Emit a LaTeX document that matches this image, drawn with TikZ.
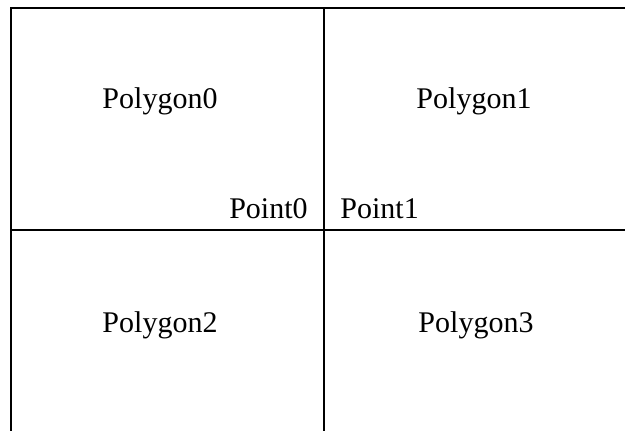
\documentclass[tikz,border=0pt]{standalone}
\usepackage{fontspec}
\setmainfont{Liberation Serif}
\usetikzlibrary{positioning}
\tikzset{
  edge/.style={line width=1pt, line cap=rect},
  label/.style={inner sep=0pt, font=\fontsize{15}{18}\selectfont},
}

\begin{document}
\begin{tikzpicture}[x=0.5pt, y=-0.5pt]
  \useasboundingbox (0,0) rectangle (625,430);
  % outline of the split
  \draw[edge] (11,430) -- (11,8) -- (625,8);
  \draw[edge] (324,8) -- (324,430);
  \draw[edge] (11,230) -- (625,230);
  % polygons
  \node[label, anchor=base] (poly0) at (160,108) {Polygon0};
  \node[label, anchor=base] (poly1) at (474,108) {Polygon1};
  \node[label, anchor=base] (poly2) at (160,332) {Polygon2};
  \node[label, anchor=base] (poly3) at (476,332) {Polygon3};
  % points
  \node[label, anchor=base east] (pt0) at (308,218) {Point0};
  \node[label, anchor=base west] (pt1) at (340,218) {Point1};
\end{tikzpicture}
\end{document}
